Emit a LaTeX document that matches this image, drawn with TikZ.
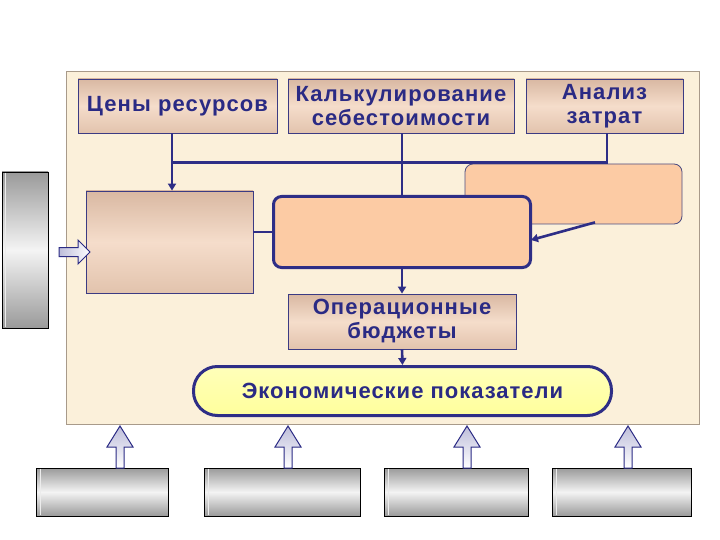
\documentclass[tikz,border=0pt]{standalone}
\usepackage{fontspec}
\setmainfont{Liberation Sans}
\newfontfamily\boxfont[LetterSpace=5]{Liberation Sans}
\newfontfamily\ecfont[LetterSpace=4.5]{Liberation Sans}
\usetikzlibrary{calc,arrows.meta}
\definecolor{navy}{HTML}{2A2A84}
\definecolor{linec}{HTML}{2E2E86}
\definecolor{panelc}{HTML}{FBF0DA}
\definecolor{panelb}{HTML}{A89A8A}
\definecolor{tanT}{HTML}{D9B8A2}
\definecolor{tanM}{HTML}{F5DDCB}
\definecolor{tanB}{HTML}{E2C3AD}
\definecolor{peach}{HTML}{FCCBA4}
\definecolor{yel}{HTML}{FFFF9C}
\definecolor{grayD}{HTML}{9A9A9A}
\definecolor{grayL}{HTML}{F4F4F4}
\definecolor{lav}{HTML}{BDBDDA}
\begin{document}
\begin{tikzpicture}[x=1pt,y=-1pt,
  txt/.style={text=navy, font=\boxfont\bfseries\fontsize{22}{24}\selectfont, align=center, inner sep=0pt},
  tanbox/.style={txt, draw=navy!80!gray, line width=0.8pt, top color=tanT, bottom color=tanB, middle color=tanM},
  peachbox/.style={fill=peach, rounded corners=8pt},
  graybox/.style={draw=black, line width=0.9pt, top color=grayD, bottom color=grayD, middle color=grayL, inner sep=0pt},
  stripe/.style={draw=white!85!gray, line width=1.6pt},
  conn/.style={draw=linec, line width=2.6pt},
  tip/.style={-{Triangle[length=7pt,width=8pt]}},
  hollow/.style={draw=navy, line width=1pt, line join=miter}
]
\useasboundingbox (0,0) rectangle (720,540);
\fill[white] (0,0) rectangle (720,540);

% panel
\node[draw=panelb, fill=panelc, line width=0.8pt, minimum width=633pt, minimum height=353pt, inner sep=0pt] (panel) at (382.5,247.5) {};

% top boxes
\node[tanbox, minimum width=199pt, minimum height=54pt] (ceny) at (177.5,106) {Цены ресурсов};
\node[tanbox, minimum width=226pt, minimum height=54pt] (kalk) at (401,106) {Калькулирование\\себестоимости};
\node[tanbox, minimum width=157pt, minimum height=54pt] (anal) at (604.5,106) {Анализ\\затрат};

% right rounded box (behind central)
\node[peachbox, draw=navy!60!gray, line width=0.8pt, minimum width=217pt, minimum height=60pt] (rb) at (573.5,194) {};
% left empty box
\node[tanbox, minimum width=167pt, minimum height=102pt] (lb) at (169.5,242) {};
% central box
\node[peachbox, draw=linec, line width=3pt, minimum width=257pt, minimum height=71pt] (cb) at (402,232) {};

% operational budgets
\node[tanbox, minimum width=228pt, minimum height=55pt] (op) at (402,321.5) {Операционные\\бюджеты};
% economic indicators
\node[txt, font=\ecfont\bfseries\fontsize{22}{24}\selectfont, draw=linec, line width=3pt, top color=yel!70!white, bottom color=yel, rounded corners=24pt, minimum width=418pt, minimum height=49pt] (ec) at (402.5,391) {Экономические показатели};

% left bar
\node[graybox, minimum width=46pt, minimum height=156pt] (bar) at (25,250) {};
\draw[stripe] ($(bar.north west)+(4,1)$) -- ($(bar.south west)+(4,-1)$);
% bottom boxes
\node[graybox, minimum width=132pt, minimum height=48pt] (b1) at (102,492) {};
\node[graybox, minimum width=156pt, minimum height=48pt] (b2) at (282,492) {};
\node[graybox, minimum width=144pt, minimum height=48pt] (b3) at (456,492) {};
\node[graybox, minimum width=139pt, minimum height=48pt] (b4) at (621.5,492) {};
\foreach \b in {b1,b2,b3,b4}{
  \draw[stripe] ($(\b.north west)+(5,1)$) -- ($(\b.south west)+(5,-1)$);
}

% connectors
\coordinate (j1) at ($(ceny.south)+(-5.5,29)$);
\coordinate (j2) at ($(anal.south)+(2.5,29)$);
\draw[conn] ($(anal.south)+(2.5,0)$) -- (j2) -- (j1);
\draw[conn, tip] ($(ceny.south)+(-5.5,0)$) -- ($(lb.north)+(2.5,0)$);
\draw[conn] (cb.north |- kalk.south) -- (cb.north);
\draw[conn] (cb.west -| lb.east) -- (cb.west);
\draw[conn, tip] ($(rb.south)+(21.5,-2)$) -- ($(cb.east)+(-1,8)$);
\draw[conn, tip] (cb.south) -- (op.north);
\draw[conn, tip] (op.south) -- (ec.north);

% hollow arrows
\draw[hollow, left color=lav, right color=white] (59,247.5) -- (78,247.5) -- (78,240) -- (90,252) -- (78,264) -- (78,256.5) -- (59,256.5) -- cycle;
\foreach \x in {120, 288, 467, 628}{
  \draw[hollow, top color=lav, bottom color=white] (\x-4,468) -- (\x-4,447) -- (\x-13,447) -- (\x,426) -- (\x+13,447) -- (\x+4,447) -- (\x+4,468) -- cycle;
}
\end{tikzpicture}
\end{document}
